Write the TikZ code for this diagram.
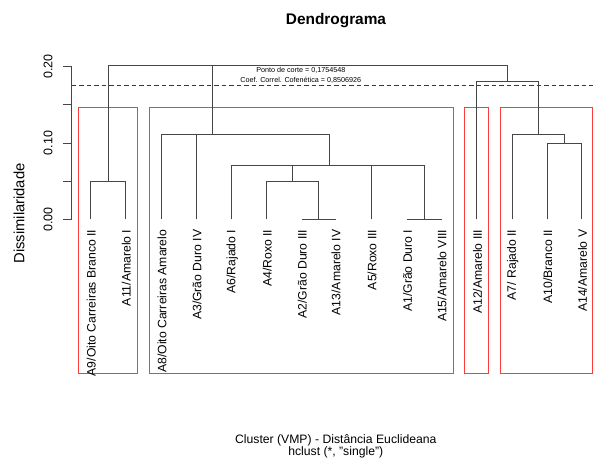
\documentclass[tikz,border=0pt]{standalone}
\usepackage{fontspec}
\setmainfont{Liberation Sans}
\definecolor{cutblue}{RGB}{30,30,255}
\definecolor{boxred}{RGB}{255,60,60}
\definecolor{dgray}{RGB}{70,70,70}
\begin{document}
\begin{tikzpicture}[x=1bp,y=-1bp,
  dline/.style={draw=dgray,line width=1.2bp},
  cutline/.style={color=cutblue,line width=1.6bp,dash pattern=on 4.5bp off 3bp},
  redbox/.style={color=boxred,line width=1.6bp},
  leaflab/.style={rotate=90,anchor=east,inner sep=0pt,font=\fontsize{12.2bp}{14bp}\selectfont},
  ticklab/.style={rotate=90,anchor=center,inner sep=0pt,font=\fontsize{12.5bp}{14bp}\selectfont},
  smalltxt/.style={anchor=base,inner sep=0pt,font=\fontsize{7.2bp}{8bp}\selectfont},
  bottomtxt/.style={anchor=base,inner sep=0pt,font=\fontsize{12.2bp}{14bp}\selectfont}]
\useasboundingbox (0,0) rectangle (593,459);
\fill[white] (0,0) rectangle (593,459);

% ---------- coordinates ----------
\coordinate (ax0) at (71.5,219.5);
\coordinate (ax20) at (71.5,66.5);
\foreach \n/\xx in {A9/90.5,A11/125.5,A8/161.5,A3/196.5,A6/231.5,A4/266.5,A2/301.5,A13/335.5,A5/371.5,A1/406.5,A15/441.5,A12/476.5,A7/512.5,A10/547.5,A14/581.5}{
  \coordinate (\n) at (\xx,219.5);
}
\coordinate (jA) at (108.5,181.5);
\coordinate (jB) at (318.5,219.5);
\coordinate (jC) at (292.5,181.5);
\coordinate (jD) at (424.5,219.5);
\coordinate (jE) at (329.5,165.5);
\coordinate (jF) at (212.5,134.5);
\coordinate (jG) at (564.5,143.5);
\coordinate (jH) at (538.5,134.5);
\coordinate (jI) at (507.5,81.5);
\coordinate (jT) at (300.0,65.5);
\coordinate (cutL) at (71.5,85.5);
\coordinate (cutR) at (593,85.5);

% ---------- graphics ----------
\begin{scope}[redbox]
\draw (78.5,107.5) rectangle (137.5,373.5);
\draw (149.5,107.5) rectangle (453.5,373.5);
\draw (464.5,107.5) rectangle (488.5,373.5);
\draw (500.5,107.5) rectangle (592.5,373.5);
\end{scope}

\begin{scope}[cutline]
\draw (cutL) -- (cutR);
\end{scope}

\draw[dline] (ax0) -- (ax20);
\foreach \v/\yy in {0/219.5,5/181.5,10/143.5,15/104.5,20/66.5}{
  \coordinate (t\v) at (71.5,\yy);
  \coordinate (tt\v) at (63.3,\yy);
  \draw[dline] (t\v) -- (tt\v);
}

\draw[dline] (A9) |- (jA) (A11) |- (jA);
\draw[dline] (A2) |- (jB) (A13) |- (jB);
\draw[dline] (A4) |- (jC) (jB) |- (jC);
\draw[dline] (A1) |- (jD) (A15) |- (jD);
\draw[dline] (A6) |- (jE) (jC) |- (jE) (A5) |- (jE) (jD) |- (jE);
\draw[dline] (A8) |- (jF) (A3) |- (jF) (jE) |- (jF);
\draw[dline] (A10) |- (jG) (A14) |- (jG);
\draw[dline] (A7) |- (jH) (jG) |- (jH);
\draw[dline] (A12) |- (jI) (jH) |- (jI);
\draw[dline] (jA) |- (jT) (jF) |- (jT) (jI) |- (jT);

% ---------- texts ----------
\node[anchor=base,inner sep=0pt,font=\fontsize{15.4bp}{18bp}\selectfont\bfseries] (title) at (336,24.3) {Dendrograma};
\node[ticklab] (l00) at (48,219.3) {0.00};
\node[ticklab] (l10) at (48,143.0) {0.10};
\node[ticklab] (l20) at (48,66.7) {0.20};
\node[rotate=90,inner sep=0pt,font=\fontsize{14.8bp}{16bp}\selectfont] (ylab) at (19,213.5) {Dissimilaridade};

\node[leaflab] (lA9) at (91.2,229.5) {A9/Oito Carreiras Branco II};
\node[leaflab] (lA11) at (126.2,229.5) {A11/Amarelo I};
\node[leaflab] (lA8) at (161.9,229.5) {A8/Oito Carreiras Amarelo};
\node[leaflab] (lA3) at (196.9,229.5) {A3/Grão Duro IV};
\node[leaflab] (lA6) at (232.3,229.5) {A6/Rajado I};
\node[leaflab] (lA4) at (267.3,229.5) {A4/Roxo II};
\node[leaflab] (lA2) at (302.3,229.5) {A2/Grão Duro III};
\node[leaflab] (lA13) at (336.0,229.5) {A13/Amarelo IV};
\node[leaflab] (lA5) at (372.0,229.5) {A5/Roxo III};
\node[leaflab] (lA1) at (407.4,229.5) {A1/Grão Duro I};
\node[leaflab] (lA15) at (442.1,229.5) {A15/Amarelo VIII};
\node[leaflab] (lA12) at (477.4,229.5) {A12/Amarelo III};
\node[leaflab] (lA7) at (512.8,229.5) {A7/ Rajado II};
\node[leaflab] (lA10) at (547.8,229.5) {A10/Branco II};
\node[leaflab] (lA14) at (582.5,229.5) {A14/Amarelo V};

\node[smalltxt] (ponto) at (300.8,72.5) {Ponto de corte = 0,1754548};
\node[smalltxt] (coef) at (300.8,83.0) {Coef. Correl. Cofenética = 0,8506926};

\node[bottomtxt] (sub1) at (335.8,443.5) {Cluster (VMP) - Distância Euclideana};
\node[bottomtxt] (sub2) at (335.8,455.5) {hclust (*, "single")};
\end{tikzpicture}
\end{document}
